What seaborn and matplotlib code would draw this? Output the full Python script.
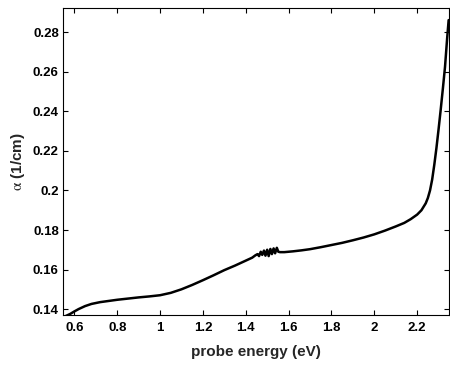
import matplotlib
matplotlib.use("Agg")
import matplotlib.pyplot as plt
import seaborn as sns
import pandas as pd

# Absorption spectrum: probe photon energy (eV) vs absorption coefficient
energy = [0.54, 0.56, 0.58, 0.60, 0.62, 0.65, 0.68, 0.72, 0.76, 0.80,
          0.85, 0.90, 0.95, 1.00, 1.05, 1.10, 1.15, 1.20, 1.25, 1.30,
          1.35, 1.40, 1.43, 1.445, 1.455, 1.462, 1.47, 1.477, 1.485, 1.492,
          1.50, 1.507, 1.515, 1.522, 1.53, 1.537, 1.545, 1.552, 1.56, 1.58,
          1.62, 1.66, 1.70, 1.75, 1.80, 1.85, 1.90, 1.95, 2.00, 2.05,
          2.10, 2.14, 2.17, 2.20, 2.22, 2.24, 2.25, 2.26, 2.27, 2.28,
          2.29, 2.30, 2.31, 2.32, 2.33, 2.34, 2.347]
alpha = [0.1355, 0.1365, 0.1375, 0.1388, 0.1400, 0.1415, 0.1426, 0.1435, 0.1441, 0.1447,
         0.1453, 0.1459, 0.1464, 0.1470, 0.1482, 0.1500, 0.1522, 0.1546, 0.1571, 0.1597,
         0.1620, 0.1645, 0.1660, 0.1672, 0.1678, 0.1668, 0.1690, 0.1674, 0.1696, 0.1670,
         0.1700, 0.1668, 0.1704, 0.1678, 0.1707, 0.1682, 0.1710, 0.1690, 0.1688, 0.1688,
         0.1692, 0.1697, 0.1703, 0.1713, 0.1724, 0.1735, 0.1748, 0.1762, 0.1778, 0.1797,
         0.1818, 0.1836, 0.1855, 0.1878, 0.1900, 0.1935, 0.1962, 0.2000, 0.2055, 0.2130,
         0.2215, 0.2310, 0.2410, 0.2515, 0.2625, 0.2770, 0.2862]

x_ticks = [0.6, 0.8, 1.0, 1.2, 1.4, 1.6, 1.8, 2.0, 2.2]
x_ticklabels = ["0.6", "0.8", "1", "1.2", "1.4", "1.6", "1.8", "2", "2.2"]
y_ticks = [0.14, 0.16, 0.18, 0.20, 0.22, 0.24, 0.26, 0.28]
y_ticklabels = ["0.14", "0.16", "0.18", "0.2", "0.22", "0.24", "0.26", "0.28"]

sns.set_style("ticks")
plt.rcParams["font.family"] = ["Liberation Sans", "DejaVu Sans"]
plt.rcParams["mathtext.fontset"] = "stix"

df = pd.DataFrame({"energy": energy, "alpha": alpha})

fig = plt.figure(figsize=(4.5, 3.65), dpi=100)
ax = fig.add_axes([0.14, 0.137, 0.857, 0.841])

sns.lineplot(data=df, x="energy", y="alpha", color="black", linewidth=1.8,
             sort=False, ax=ax)

ax.set_xlim(0.547, 2.347)
ax.set_ylim(0.137, 0.2923)
ax.set_xticks(x_ticks)
ax.set_xticklabels(x_ticklabels)
ax.set_yticks(y_ticks)
ax.set_yticklabels(y_ticklabels)

ax.tick_params(direction="in", length=3.5, width=0.8, top=True, right=True,
               labelsize=9.5, colors="black")
ax.tick_params(axis="x", pad=5)
ax.tick_params(axis="y", pad=3)
for lab in ax.get_xticklabels() + ax.get_yticklabels():
    lab.set_fontweight("bold")

for side in ["left", "right", "top", "bottom"]:
    ax.spines[side].set_visible(True)
    ax.spines[side].set_linewidth(0.8)
    ax.spines[side].set_color("black")

ax.set_xlabel("probe energy (eV)", fontsize=11, fontweight="bold", labelpad=8)
ax.set_ylabel(r"$\mathrm{\alpha}$ (1/cm)", fontsize=11, fontweight="bold", labelpad=4)

fig.savefig("out.png", dpi=100)
